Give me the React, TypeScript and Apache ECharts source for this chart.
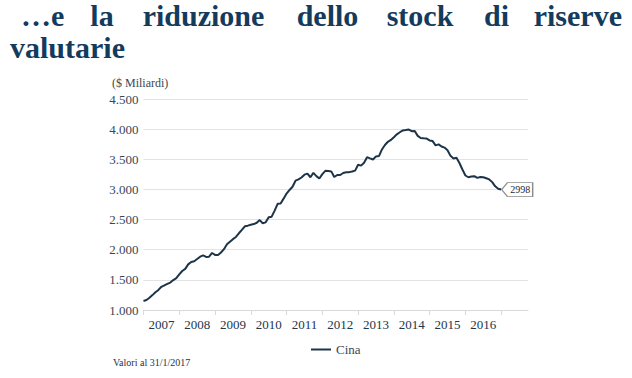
import React, { useEffect, useRef } from "react";
import * as echarts from "echarts";

const years = [2007, 2008, 2009, 2010, 2011, 2012, 2013, 2014, 2015, 2016, 2017];
const labelYears = [2007, 2008, 2009, 2010, 2011, 2012, 2013, 2014, 2015, 2016];
const seriesName = "Cina";
const cina = [
  1150, 1165, 1202, 1247, 1293, 1333, 1385, 1409, 1434, 1455, 1497, 1528,
  1590, 1647, 1682, 1757, 1797, 1809, 1845, 1884, 1906, 1880, 1885, 1946,
  1914, 1912, 1954, 2009, 2089, 2132, 2175, 2211, 2273, 2328, 2389, 2399,
  2415, 2425, 2447, 2491, 2440, 2454, 2538, 2548, 2648, 2761, 2768, 2847,
  2932, 2991, 3045, 3145, 3166, 3198, 3245, 3263, 3202, 3274, 3221, 3181,
  3254, 3309, 3305, 3299, 3206, 3240, 3240, 3273, 3285, 3287, 3298, 3312,
  3410, 3395, 3443, 3535, 3515, 3497, 3548, 3553, 3663, 3737, 3790, 3821,
  3867, 3914, 3948, 3979, 3984, 3993, 3966, 3969, 3888, 3853, 3847, 3843,
  3813, 3802, 3730, 3748, 3711, 3694, 3651, 3557, 3514, 3526, 3438, 3330,
  3231, 3202, 3213, 3220, 3192, 3205, 3201, 3185, 3166, 3121, 3052, 3011,
  2998,
];
const yTicks = { min: 1000, max: 4500, interval: 500 };
const titleWords = ["\u2026e", "la", "riduzione", "dello", "stock", "di", "riserve"];
const titleLine2 = "valutarie";
const yAxisTitle = "($ Miliardi)";
const footnote = "Valori al 31/1/2017";

// months of the axis: Jan 2007 .. Oct 2017
const categories: string[] = [];
years.forEach((y) => {
  for (let m = 1; m <= 12; m++) {
    if (y === 2017 && m > 10) break;
    categories.push(`${y}-${m < 10 ? "0" + m : m}`);
  }
});

const SERIF = "Liberation Serif";
const TITLE_COLOR = "#143b5c";
const LINE_COLOR = "#1d3448";

export default function App() {
  const ref = useRef<HTMLDivElement>(null);
  useEffect(() => {
    if (!ref.current) return;
    const chart = echarts.init(ref.current, undefined, { renderer: "svg" });
    const lastIdx = cina.length - 1;
    const lastVal = cina[lastIdx];
    const titleStyle = { fontFamily: SERIF, fontSize: 30, fontWeight: "bold", fill: TITLE_COLOR };
    const wordPos: [number, string][] = [
      [21, "left"],
      [102, "center"],
      [203.5, "center"],
      [327.5, "center"],
      [420, "center"],
      [496.5, "center"],
      [622, "right"],
    ];
    const graphic: any[] = titleWords.map((w, i) => ({
      type: "text",
      x: wordPos[i][0],
      y: 15.5,
      style: {
        text: w,
        ...titleStyle,
        align: wordPos[i][1],
        verticalAlign: "middle",
      },
    }));
    graphic.push({
      type: "text",
      x: 10,
      y: 47,
      style: { text: titleLine2, ...titleStyle, align: "left", verticalAlign: "middle" },
    });
    graphic.push({
      type: "text",
      x: 112,
      y: 83,
      style: { text: yAxisTitle, fontFamily: SERIF, fontSize: 12, fill: "#3b4654", align: "left", verticalAlign: "middle" },
    });
    graphic.push({
      type: "text",
      x: 113,
      y: 362,
      style: { text: footnote, fontFamily: SERIF, fontSize: 10, fill: "#1d3448", align: "left", verticalAlign: "middle" },
    });

    chart.setOption({
      animation: false,
      backgroundColor: "#ffffff",
      textStyle: { fontFamily: SERIF },
      grid: { left: 143.5, right: 104, top: 99, bottom: 68, containLabel: false },
      graphic,
      legend: {
        data: [{ name: seriesName, icon: "rect" }],
        left: 311,
        top: 343,
        padding: 0,
        itemWidth: 20,
        itemHeight: 2,
        itemGap: 6,
        textStyle: { fontFamily: SERIF, fontSize: 13, color: "#3b4654", padding: [0, 0, 0, 0] },
      },
      xAxis: {
        type: "category",
        data: categories,
        boundaryGap: false,
        axisLine: { show: true, lineStyle: { color: "#d9d9d9", width: 1 } },
        axisTick: {
          show: true,
          length: 5,
          lineStyle: { color: "#d9d9d9" },
          interval: (_i: number, v: string) => v.endsWith("-01"),
        },
        axisLabel: {
          interval: (_i: number, v: string) =>
            v.endsWith("-07") && labelYears.indexOf(Number(v.slice(0, 4))) >= 0,
          formatter: (v: string) => v.slice(0, 4),
          fontFamily: SERIF,
          fontSize: 13,
          color: "#24364a",
          margin: 8,
        },
        splitLine: { show: false },
      },
      yAxis: {
        type: "value",
        min: yTicks.min,
        max: yTicks.max,
        interval: yTicks.interval,
        axisLine: { show: false },
        axisTick: { show: false },
        axisLabel: {
          fontFamily: SERIF,
          fontSize: 13,
          color: "#3b4654",
          margin: 5,
          formatter: (v: number) => {
            const s = String(Math.round(v));
            return s.length > 3 ? s.slice(0, s.length - 3) + "." + s.slice(-3) : s;
          },
        },
        splitLine: { show: true, lineStyle: { color: "#e3e3e3", width: 1 } },
      },
      series: [
        {
          name: seriesName,
          type: "line",
          data: cina,
          symbol: "none",
          showSymbol: false,
          lineStyle: { color: LINE_COLOR, width: 2 },
          itemStyle: { color: LINE_COLOR },
          markPoint: {
            silent: true,
            symbol: "path://M0,7 L6,0 L32,0 L32,14 L6,14 Z",
            symbolSize: [31, 14],
            symbolKeepAspect: false,
            symbolOffset: [16, 0],
            itemStyle: { color: "#ffffff", borderColor: "#8c8c8c", borderWidth: 1 },
            label: {
              show: true,
              position: "inside",
              offset: [3, 0],
              formatter: () => String(lastVal),
              fontFamily: SERIF,
              fontSize: 10,
              color: "#1d2a36",
            },
            data: [{ coord: [lastIdx, lastVal], value: lastVal }],
          },
        },
      ],
    });
    return () => chart.dispose();
  }, []);
  return (
    <div
      ref={ref}
      style={{ position: "fixed", left: 0, top: 0, width: 632, height: 378, background: "#fff" }}
    />
  );
}
